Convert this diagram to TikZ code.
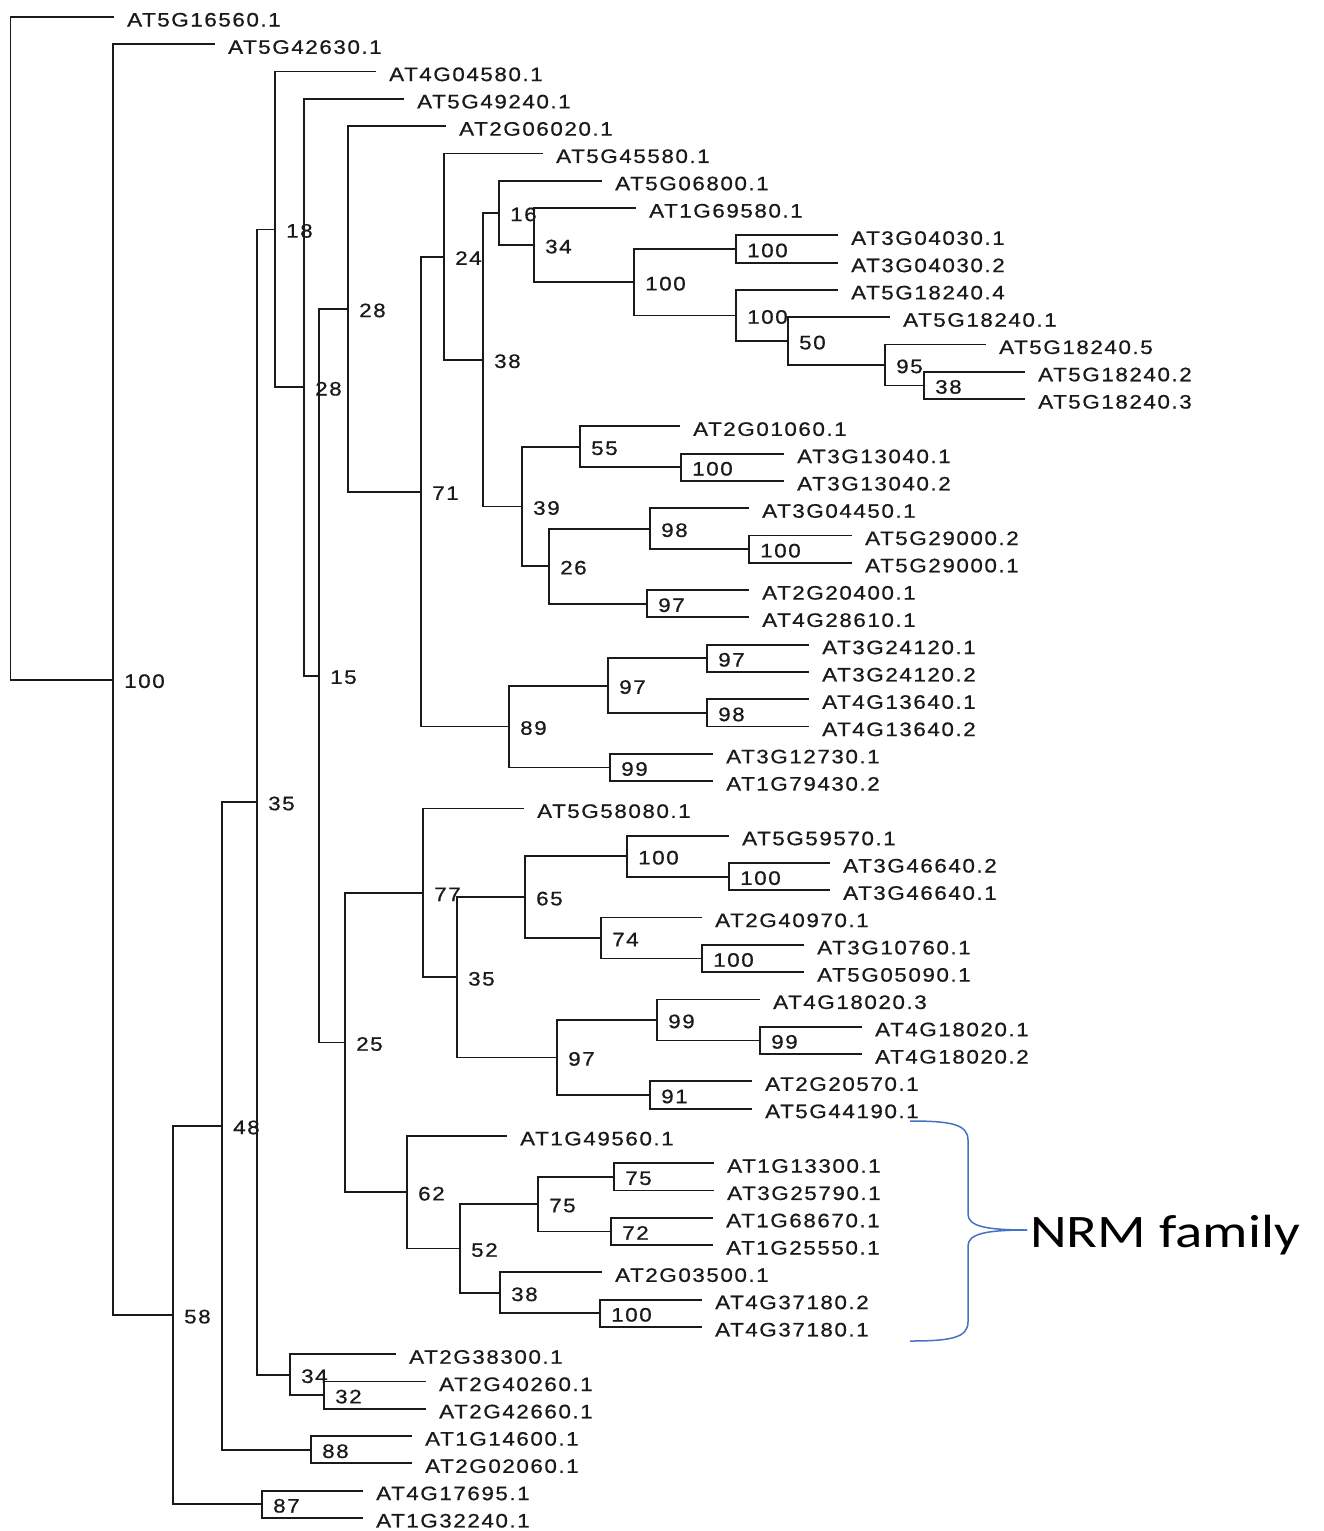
\documentclass[tikz,border=0pt]{standalone}
\usepackage{fontspec}
\newfontfamily\treefont[FakeStretch=1.15,LetterSpace=8,FakeBold=0.7]{Liberation Sans}
\newfontfamily\famfont[FakeStretch=1.22]{Carlito}
\definecolor{mbrace}{HTML}{4472C4}
\definecolor{mline}{HTML}{1A1A1A}
\tikzstyle{branch} = [line width=1.8pt, mline]
\tikzstyle{leaf} = [anchor=west, inner xsep=13pt, inner ysep=0pt, text height=19pt, text depth=0pt, font=\treefont\fontsize{19.5}{21}\selectfont, text=mline]
\tikzstyle{boot} = [anchor=west, inner sep=0pt, xshift=11pt, yshift=-1.5pt, font=\treefont\fontsize{19.5}{21}\selectfont, text=mline]
\tikzstyle{brace} = [line width=1.5pt, mbrace]
\tikzstyle{famlabel} = [anchor=base west, inner sep=0pt, font=\famfont\fontsize{46.6}{50}\selectfont]

\begin{document}
\begin{tikzpicture}[x=1pt, y=-1pt]
  \useasboundingbox[fill=white] (0,0) rectangle (1324,1531);
  % leaves, one row each
  \foreach \gene/\xe [count=\i] in {AT5G16560.1/114, AT5G42630.1/215, AT4G04580.1/376, AT5G49240.1/404,
      AT2G06020.1/446, AT5G45580.1/543, AT5G06800.1/602, AT1G69580.1/636,
      AT3G04030.1/838, AT3G04030.2/838, AT5G18240.4/838, AT5G18240.1/890,
      AT5G18240.5/986, AT5G18240.2/1025, AT5G18240.3/1025, AT2G01060.1/680,
      AT3G13040.1/784, AT3G13040.2/784, AT3G04450.1/749, AT5G29000.2/852,
      AT5G29000.1/852, AT2G20400.1/749, AT4G28610.1/749, AT3G24120.1/809,
      AT3G24120.2/809, AT4G13640.1/809, AT4G13640.2/809, AT3G12730.1/713,
      AT1G79430.2/713, AT5G58080.1/524, AT5G59570.1/729, AT3G46640.2/830,
      AT3G46640.1/830, AT2G40970.1/702, AT3G10760.1/804, AT5G05090.1/804,
      AT4G18020.3/760, AT4G18020.1/862, AT4G18020.2/862, AT2G20570.1/752,
      AT5G44190.1/752, AT1G49560.1/507, AT1G13300.1/714, AT3G25790.1/714,
      AT1G68670.1/713, AT1G25550.1/713, AT2G03500.1/602, AT4G37180.2/702,
      AT4G37180.1/702, AT2G38300.1/396, AT2G40260.1/426, AT2G42660.1/426,
      AT1G14600.1/412, AT2G02060.1/412, AT4G17695.1/363, AT1G32240.1/363}
    \node[leaf] (l\i) at (\xe,{17+27.29*(\i-1)}) {\gene};

  % inner nodes with bootstrap values
  \coordinate (root) at (10.5,348.4);
  \foreach \nm/\xx/\yy/\bv in {n100a/113/679.7/100, n58/173/1315.1/58, n48/222/1125.9/48,
      n35/257/802.0/35, n18/275/229.4/18, n28b/304/387.3/28, n15/319/675.7/15,
      n28a/348/308.9/28, n71/421/491.6/71, n24/444/256.6/24, n38/483/359.7/38,
      n16/499/212.9/16, n34/534/245.1/34, n100b/634/282.2/100, n100c/736/249.0/100,
      n100d/736/315.5/100, n50/788/341.1/50, n95/885/364.9/95, n38c/924/385.4/38,
      n39/522/506.5/39, n55/580/446.8/55, n100e/681/467.3/100, n26/549/566.2/26,
      n98/650/528.7/98, n100f/749/549.2/100, n97a/647/603.7/97, n89/509/726.5/89,
      n97c/608/685.6/97, n97b/707/658.3/97, n98b/707/712.9/98, n99a/610/767.5/99,
      n25/345/1042.5/25, n77/423/892.8/77, n35b/457/977.3/35, n65/525/897.1/65,
      n100g/627/856.2/100, n100h/729/876.6/100, n74/601/938.0/74, n100i/702/958.5/100,
      n97d/557/1057.4/97, n99b/657/1019.9/99, n99c/760/1040.4/99, n91/650/1095.0/91,
      n62/407/1192.2/62, n52/460/1248.5/52, n75a/538/1204.1/75, n75b/614/1176.8/75,
      n72/611/1231.4/72, n38b/500/1292.8/38, n100j/600/1313.3/100, n34b/290/1374.7/34,
      n32/324/1395.1/32, n88/311/1449.7/88, n87/262/1504.3/87}
  {
    \coordinate (\nm) at (\xx,\yy);
    \node[boot] (b\nm) at (\nm) {\bv};
  }

  % branches
  \foreach \p/\c in {root/l1, root/n100a, n100a/l2, n100a/n58, n58/n48, n58/n87,
      n48/n35, n48/n88, n35/n18, n35/n34b, n18/l3, n18/n28b, n28b/l4, n28b/n15,
      n15/n28a, n15/n25, n28a/l5, n28a/n71, n71/n24, n71/n89, n24/l6, n24/n38,
      n38/n16, n38/n39, n16/l7, n16/n34, n34/l8, n34/n100b, n100b/n100c, n100b/n100d,
      n100c/l9, n100c/l10, n100d/l11, n100d/n50, n50/l12, n50/n95, n95/l13, n95/n38c,
      n38c/l14, n38c/l15, n39/n55, n39/n26, n55/l16, n55/n100e, n100e/l17, n100e/l18,
      n26/n98, n26/n97a, n98/l19, n98/n100f, n100f/l20, n100f/l21, n97a/l22, n97a/l23,
      n89/n97c, n89/n99a, n97c/n97b, n97c/n98b, n97b/l24, n97b/l25, n98b/l26, n98b/l27,
      n99a/l28, n99a/l29, n25/n77, n25/n62, n77/l30, n77/n35b, n35b/n65, n35b/n97d,
      n65/n100g, n65/n74, n100g/l31, n100g/n100h, n100h/l32, n100h/l33, n74/l34, n74/n100i,
      n100i/l35, n100i/l36, n97d/n99b, n97d/n91, n99b/l37, n99b/n99c, n99c/l38, n99c/l39,
      n91/l40, n91/l41, n62/l42, n62/n52, n52/n75a, n52/n38b, n75a/n75b, n75a/n72,
      n75b/l43, n75b/l44, n72/l45, n72/l46, n38b/l47, n38b/n100j, n100j/l48, n100j/l49,
      n34b/l50, n34b/n32, n32/l51, n32/l52, n88/l53, n88/l54, n87/l55, n87/l56}
    \draw[branch] (\p) |- (\c);

  % NRM family brace
  \coordinate (bt) at (910,1121);
  \coordinate (bb) at (910,1341);
  \coordinate (btip) at (1027,1230);
  \draw[brace] (bt) .. controls (950,1121) and (968,1124) .. (968,1140) -- (968,1214)
    .. controls (968,1226) and (985,1230) .. (btip);
  \draw[brace] (btip) .. controls (985,1230) and (968,1234) .. (968,1246) -- (968,1322)
    .. controls (968,1338) and (950,1341) .. (bb);
  \node[famlabel] (nrm) at (1030,1247) {NRM family};
\end{tikzpicture}
\end{document}
